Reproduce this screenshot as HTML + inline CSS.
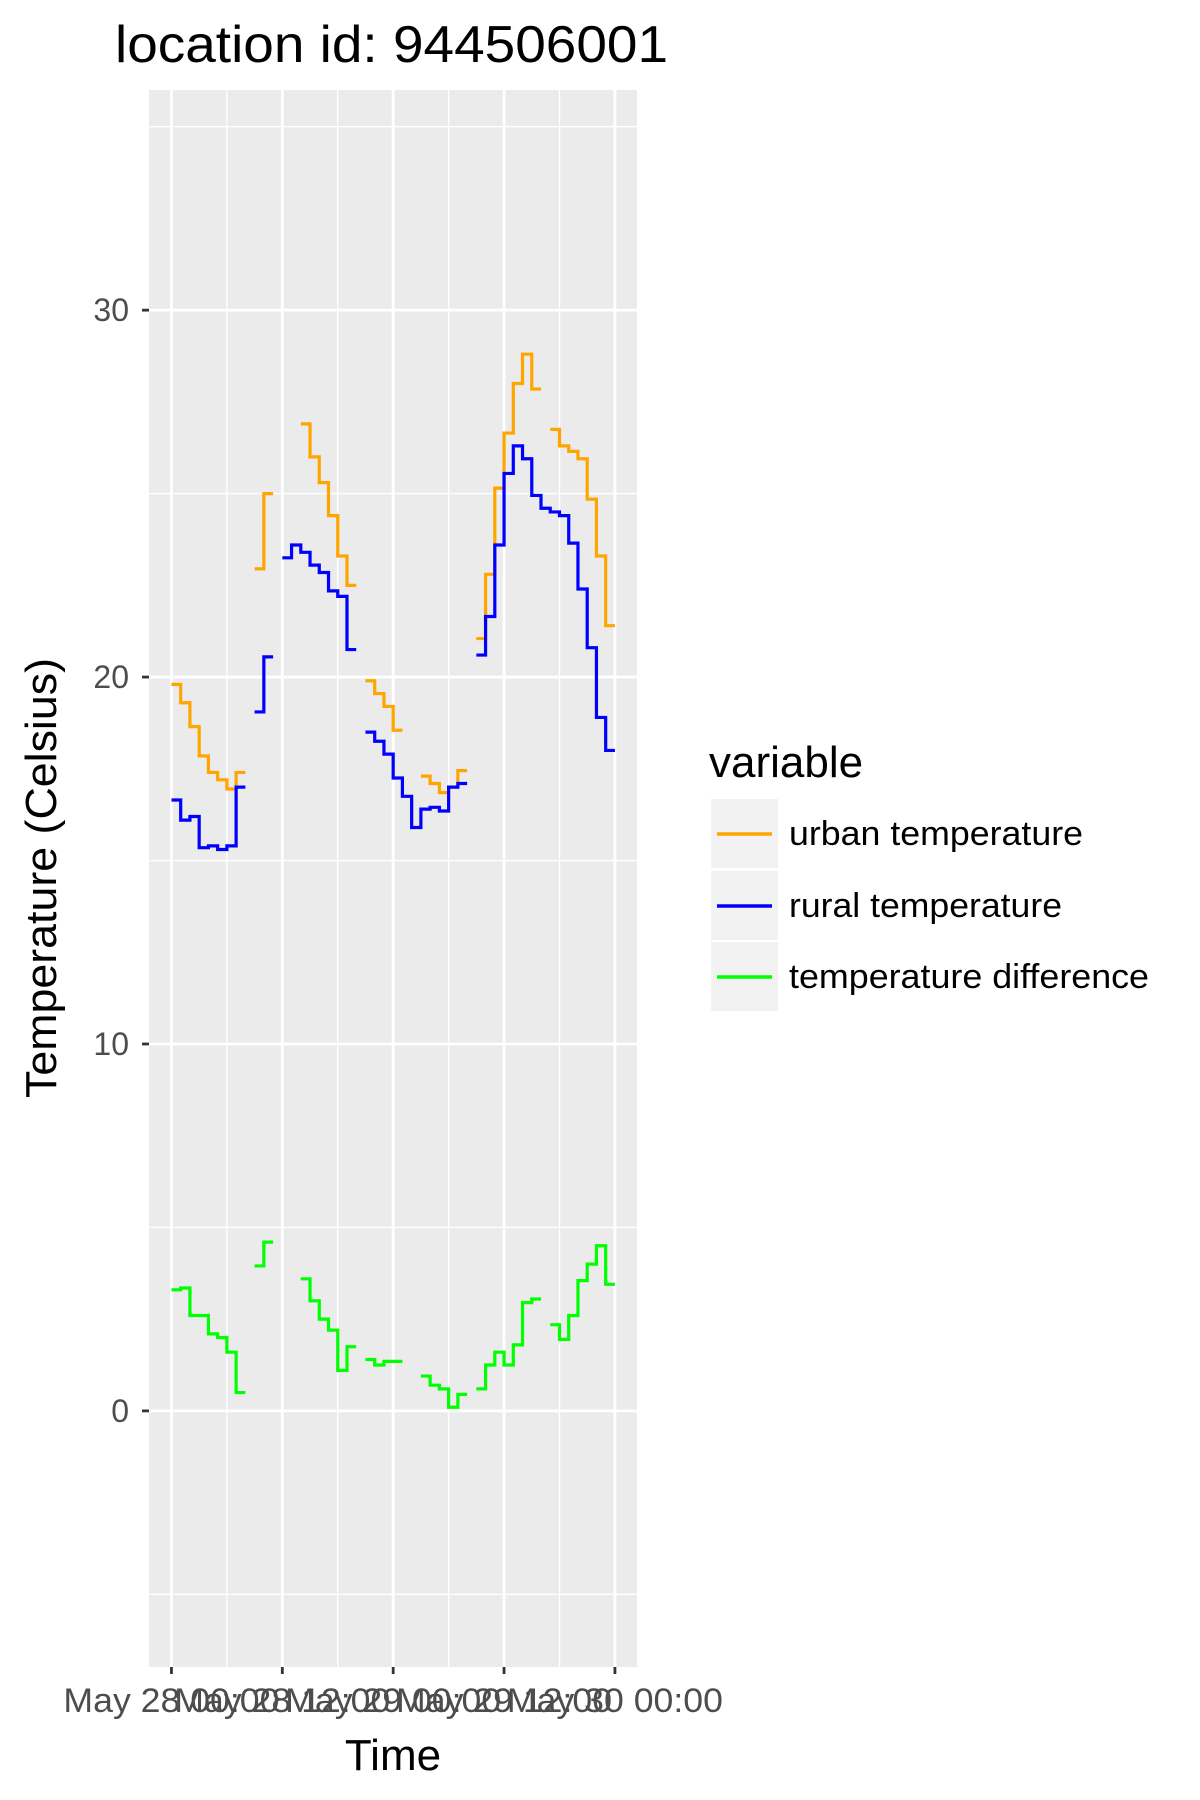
<!DOCTYPE html>
<html><head><meta charset="utf-8"><style>
html,body{margin:0;padding:0;background:#fff}
svg{display:block;font-family:"Liberation Sans",sans-serif}
</style></head><body>
<svg id="chart" width="1200" height="1800" viewBox="0 0 1200 1800">
<text x="115" y="62" font-size="52" textLength="553" lengthAdjust="spacingAndGlyphs" fill="#000">location id: 944506001</text>
<rect x="149" y="90" width="488" height="1577" fill="#EBEBEB"/>
<g id="grid"></g>
<g id="axes"></g>
<g id="series"></g>
<text x="393" y="1770" font-size="44" text-anchor="middle" fill="#000">Time</text>
<text transform="translate(56,878) rotate(-90)" font-size="44" text-anchor="middle" textLength="440" lengthAdjust="spacingAndGlyphs" fill="#000">Temperature (Celsius)</text>
<g>
<text x="709" y="777" font-size="44" fill="#000">variable</text>
<g>
<rect x="711" y="799" width="67" height="69" fill="#F2F2F2"/>
<line x1="717" y1="834" x2="772" y2="834" stroke="#FFA500" stroke-width="3.4"/>
<text x="789" y="845" font-size="34" textLength="294" lengthAdjust="spacingAndGlyphs" fill="#000">urban temperature</text></g>
<g>
<rect x="711" y="871" width="67" height="69" fill="#F2F2F2"/>
<line x1="717" y1="906" x2="772" y2="906" stroke="#0000FF" stroke-width="3.4"/>
<text x="789" y="917" font-size="34" textLength="273" lengthAdjust="spacingAndGlyphs" fill="#000">rural temperature</text></g>
<g>
<rect x="711" y="942" width="67" height="69" fill="#F2F2F2"/>
<line x1="717" y1="977" x2="772" y2="977" stroke="#00FF00" stroke-width="3.4"/>
<text x="789" y="988" font-size="34" textLength="360" lengthAdjust="spacingAndGlyphs" fill="#000">temperature difference</text></g>
</g>
</svg>
<script>
const xTickHours = [0, 12, 24, 36, 48];
const xTickLabels = ["May 28 00:00", "May 28 12:00", "May 29 00:00", "May 29 12:00", "May 30 00:00"];
const yTicks = [0, 10, 20, 30];
const urban = [19.8,19.3,18.65,17.85,17.4,17.2,16.95,17.4,null,22.95,25.0,null,null,null,26.9,26.0,25.3,24.4,23.3,22.5,null,19.9,19.55,19.2,18.55,null,null,17.3,17.1,16.85,17.0,17.45,null,21.05,22.8,25.15,26.65,28.0,28.8,27.85,null,26.75,26.3,26.15,25.95,24.85,23.3,21.4,null];
const rural = [16.65,16.1,16.2,15.35,15.4,15.3,15.4,17.0,null,19.05,20.55,null,23.25,23.6,23.4,23.05,22.85,22.35,22.2,20.75,null,18.5,18.25,17.9,17.25,16.75,15.9,16.4,16.45,16.35,17.0,17.1,null,20.6,21.65,23.6,25.55,26.3,25.95,24.95,24.6,24.5,24.4,23.65,22.4,20.8,18.9,18.0,null];
const diff = [3.3,3.35,2.6,2.6,2.1,2.0,1.6,0.5,null,3.95,4.6,null,null,null,3.6,3.0,2.5,2.2,1.1,1.75,null,1.4,1.25,1.35,1.35,null,null,0.95,0.7,0.6,0.1,0.45,null,0.6,1.25,1.6,1.25,1.8,2.95,3.05,null,2.35,1.95,2.6,3.55,4.0,4.5,3.45,null];

const NS = "http://www.w3.org/2000/svg";
const X0 = 149, X1 = 637, Y0 = 90, Y1 = 1667;
const hMin = -2.43, hMax = 50.39, yMin = -6.98, yMax = 36.0;
function xs(h){ return X0 + (h - hMin) / (hMax - hMin) * (X1 - X0); }
function ys(v){ return Y1 - (v - yMin) / (yMax - yMin) * (Y1 - Y0); }
function mk(tag, attrs, parent){ const e = document.createElementNS(NS, tag); for (const k in attrs) e.setAttribute(k, attrs[k]); parent.appendChild(e); return e; }

const grid = document.getElementById('grid');
const axes = document.getElementById('axes');
for (let v = -5; v <= 35; v += 5) {
  const major = v % 10 === 0;
  const l = mk('line', {x1: X0, x2: X1, y1: ys(v), y2: ys(v), stroke: '#fff', 'stroke-width': major ? 2.8 : 1.4}, grid);
  
  
}
for (let h = 0; h <= 48; h += 6) {
  const major = h % 12 === 0;
  const l = mk('line', {x1: xs(h), x2: xs(h), y1: Y0, y2: Y1, stroke: '#fff', 'stroke-width': major ? 2.8 : 1.4}, grid);
  
  
}
yTicks.forEach(v => {
  const t = mk('line', {x1: X0 - 7, x2: X0, y1: ys(v), y2: ys(v), stroke: '#333', 'stroke-width': 2.8}, axes);
  
  
  const tx = mk('text', {x: X0 - 20, y: ys(v) + 11, 'font-size': 32, 'text-anchor': 'end', fill: '#4D4D4D'}, axes);
  tx.textContent = String(v);
  
  
});
xTickHours.forEach((h, i) => {
  const t = mk('line', {x1: xs(h), x2: xs(h), y1: Y1, y2: Y1 + 7, stroke: '#333', 'stroke-width': 2.8}, axes);
  
  
  const tx = mk('text', {x: xs(h), y: 1712, 'font-size': 34, 'text-anchor': 'middle', textLength: 216, lengthAdjust: 'spacingAndGlyphs', fill: '#4D4D4D'}, axes);
  tx.textContent = xTickLabels[i];
  
  
});

const series = document.getElementById('series');
function drawStep(vals, color, name){
  let d = '';
  let open = false;
  for (let h = 0; h < vals.length; h++) {
    const v = vals[h];
    if (v === null) { open = false; continue; }
    if (!open) { d += 'M' + xs(h).toFixed(2) + ',' + ys(v).toFixed(2); open = true; }
    else { d += 'V' + ys(v).toFixed(2); }
    d += 'H' + xs(h + 1).toFixed(2);
  }
  const p = mk('path', {d: d, fill: 'none', stroke: color, 'stroke-width': 3.2}, series);
  
  
}
drawStep(urban, '#FFA500', 'urban-temperature-line');
drawStep(rural, '#0000FF', 'rural-temperature-line');
drawStep(diff, '#00FF00', 'temperature-difference-line');
</script>
</body></html>
